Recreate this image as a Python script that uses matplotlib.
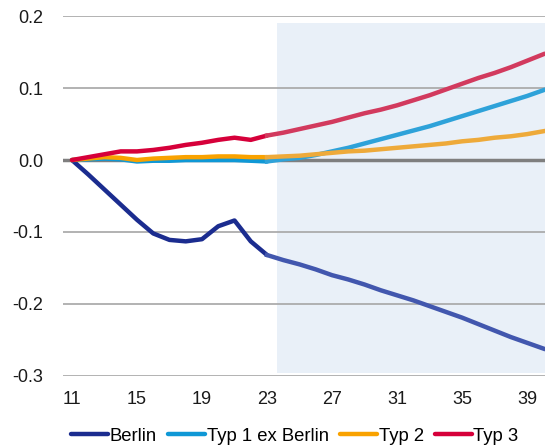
import matplotlib.pyplot as plt

plt.rcParams['font.family'] = ['Liberation Sans', 'DejaVu Sans']

years = list(range(11, 41))
split = 23  # last observed year, projection afterwards
shade_start = 23.6

berlin = [0, -0.02, -0.041, -0.062, -0.083, -0.102, -0.111, -0.113, -0.110, -0.092,
          -0.084, -0.113, -0.132, -0.139, -0.145, -0.152, -0.160, -0.166, -0.173, -0.181,
          -0.188, -0.195, -0.203, -0.211, -0.219, -0.228, -0.237, -0.246, -0.254, -0.262]
typ1 = [0, 0.001, 0.002, 0.001, -0.002, -0.001, -0.001, 0, 0, 0,
        0, -0.001, -0.002, 0.001, 0.003, 0.007, 0.012, 0.017, 0.023, 0.029,
        0.035, 0.041, 0.047, 0.054, 0.061, 0.068, 0.075, 0.082, 0.089, 0.097]
typ2 = [0, 0.002, 0.004, 0.003, 0.0, 0.002, 0.003, 0.004, 0.004, 0.005,
        0.005, 0.004, 0.004, 0.005, 0.006, 0.008, 0.010, 0.012, 0.013, 0.015,
        0.017, 0.019, 0.021, 0.023, 0.026, 0.028, 0.031, 0.033, 0.036, 0.040]
typ3 = [0, 0.004, 0.008, 0.012, 0.012, 0.014, 0.017, 0.021, 0.024, 0.028,
        0.031, 0.028, 0.034, 0.038, 0.043, 0.048, 0.053, 0.059, 0.065, 0.070,
        0.076, 0.083, 0.090, 0.098, 0.106, 0.114, 0.121, 0.129, 0.138, 0.147]

series = [
    ('Berlin', berlin, '#1B2C8F', '#4257AE'),
    ('Typ 1 ex Berlin', typ1, '#0F98D6', '#2EA2D9'),
    ('Typ 2', typ2, '#F9A200', '#EEAA3A'),
    ('Typ 3', typ3, '#D6003A', '#D23A5E'),
]

fig = plt.figure(figsize=(5.45, 4.47), dpi=100)
ax = fig.add_axes([0.1156, 0.159, 0.8844, 0.805])

ax.fill_between([shade_start, 41], -0.296, 0.19, color='#E9F0F8', lw=0, zorder=0)
for y in [0.2, 0.1, -0.1, -0.2, -0.3]:
    ax.axhline(y, color='#A6A6A6', lw=1.2, zorder=1)
ax.axhline(0, color='#7F7F7F', lw=2.5, zorder=1)

i = years.index(split)
for name, vals, c_hist, c_proj in series:
    ax.plot(years[:i + 1], vals[:i + 1], color=c_hist, lw=3.2, label=name,
            solid_capstyle='round', zorder=3)
    ax.plot(years[i:], vals[i:], color=c_proj, lw=3.2, zorder=3)

ax.set_xlim(10.45, 40.1)
ax.set_ylim(-0.3, 0.2)
ax.set_xticks(range(11, 40, 4))
ax.set_yticks([0.2, 0.1, 0.0, -0.1, -0.2, -0.3])
ax.set_yticklabels(['0.2', '0.1', '0.0', '-0.1', '-0.2', '-0.3'])
for s in ax.spines.values():
    s.set_visible(False)
ax.tick_params(length=0, labelsize=13, colors='#1A1A1A')
ax.tick_params(axis='x', pad=11)
ax.tick_params(axis='y', pad=14)

fig.legend(loc='lower center', bbox_to_anchor=(0.541, -0.032), ncol=4, frameon=False,
           fontsize=13.3, handlelength=2.0, handletextpad=0.1, columnspacing=0.6)

fig.savefig('out.png', dpi=100)
